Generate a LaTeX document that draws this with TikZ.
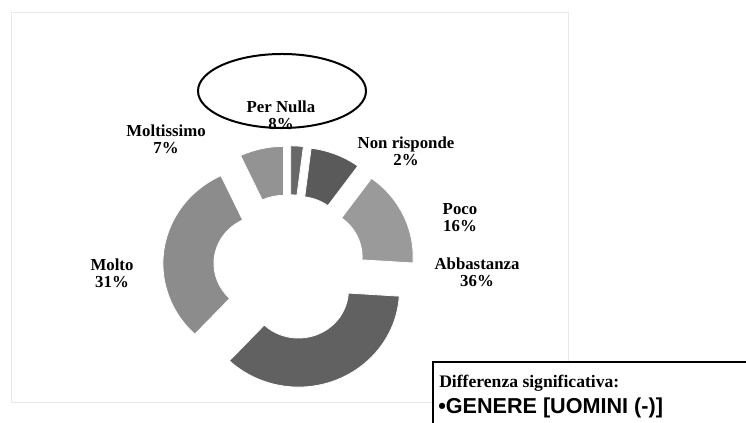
\documentclass[tikz,border=0pt]{standalone}
\usepackage{fontspec}
\setmainfont{Liberation Serif}
\newfontfamily\arialfont{Liberation Sans}
\definecolor{sliceA}{HTML}{686868}
\definecolor{sliceB}{HTML}{5A5A5A}
\definecolor{sliceC}{HTML}{9A9A9A}
\definecolor{sliceD}{HTML}{616161}
\definecolor{sliceE}{HTML}{8C8C8C}
\definecolor{sliceF}{HTML}{939393}
\definecolor{chartedge}{HTML}{E8E8E8}
\newcommand\donutslice[3]{%
  \fill[#1, draw=white, line width=0.6pt, shift={({(#2+#3)/2}:25)}]
    (#2:99) arc[start angle=#2, end angle=#3, radius=99]
    -- (#3:49) arc[start angle=#3, end angle=#2, radius=49] -- cycle;}
\begin{document}
\begin{tikzpicture}[x=0.75pt,y=0.75pt,
  lbl/.style={font=\bfseries\fontsize{12.6}{12.5}\selectfont, align=center, inner sep=0pt},
  boxline/.style={inner sep=0pt, anchor=base west}]
\useasboundingbox (0,0) rectangle (746,423);
\fill[white] (0,0) rectangle (746,423);
% chart area
\draw[chartedge, line width=0.75pt] (11,410) rectangle (568,20);
% donut
\coordinate (ctr) at (289.1,155.7);
\begin{scope}[shift={(ctr)}, xscale=1.02, yscale=0.98]
  \donutslice{sliceA}{90}{82.8}
  \donutslice{sliceB}{82.8}{54}
  \donutslice{sliceC}{54}{-3.6}
  \donutslice{sliceD}{-3.6}{-133.2}
  \donutslice{sliceE}{-133.2}{-244.8}
  \donutslice{sliceF}{-244.8}{-270}
\end{scope}
% labels
\node[lbl] (pernulla) at (281,308) {Per Nulla\\8\%};
\node[lbl] (nonrisp) at (406,272) {Non risponde\\2\%};
\node[lbl] (moltiss) at (166,284) {Moltissimo\\7\%};
\node[lbl] (poco) at (460,205.5) {Poco\\16\%};
\node[lbl] (abbast) at (477,150.5) {Abbastanza\\36\%};
\node[lbl] (molto) at (112,150) {Molto\\31\%};
% highlight ellipse
\draw[black, line width=1.5pt] (282,332) ellipse [x radius=84, y radius=37];
% note box
\node[draw=black, line width=1.5pt, fill=white, anchor=north west,
      minimum width=250pt, minimum height=60pt, inner sep=0pt] (notebox) at (432,62) {};
\node[boxline, font=\bfseries\fontsize{13.2}{14}\selectfont] (note1) at (439,35) {Differenza significativa:};
\node[boxline, font=\arialfont\bfseries\fontsize{16.2}{17}\selectfont] (note2) at (438,9) {•GENERE [UOMINI (-)]};
\end{tikzpicture}
\end{document}
